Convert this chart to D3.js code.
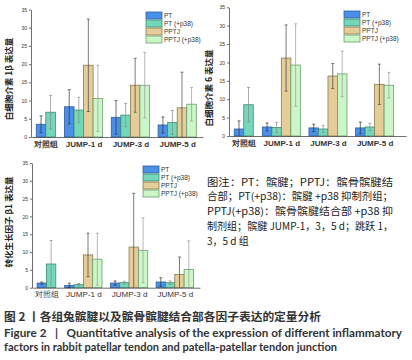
<!DOCTYPE html>
<html>
<head>
<meta charset="utf-8">
<script src="https://cdn.jsdelivr.net/npm/d3@7"></script>
<style>
  body { margin: 0; background: #fff; }
  svg { display: block; font-family: "Liberation Sans", "Noto Sans CJK SC", sans-serif; }
  .tick text { fill: #333; }
</style>
</head>
<body>
<svg id="fig" width="412" height="360"></svg>
<script>
// data
const groups = ["对照组", "JUMP-1 d", "JUMP-3 d", "JUMP-5 d"];
const series = ["PT", "PT (+p38)", "PPTJ", "PPTJ (+p38)"];
const yTicks = [0, 5, 10, 15, 20, 25, 30, 35];

// rows = series, columns = groups (control has no PPTJ bars)
const il1bMean = [[3.5, 8.3, 5.4, 3.3], [6.8, 7.4, 6.0, 4.0], [null, 19.7, 14.2, 8.0], [null, 10.6, 14.2, 9.0]];
const il1bErr  = [[2.3, 4.7, 4.6, 2.2], [4.6, 3.5, 3.2, 3.3], [null, 12.7, 7.4, 9.8], [null, 9.1, 9.0, 4.6]];

const il6Mean = [[1.9, 2.45, 2.2, 2.2], [8.5, 2.3, 1.9, 2.45], [null, 21.2, 16.3, 14.05], [null, 19.3, 16.9, 13.8]];
const il6Err  = [[2.2, 1.1, 1.0, 1.6], [4.7, 1.4, 1.0, 1.0], [null, 9.0, 3.4, 5.5], [null, 11.2, 6.2, 3.5]];

const tgfMean = [[1.3, 0.65, 1.3, 1.6], [6.65, 0.85, 1.4, 1.4], [null, 9.2, 11.4, 3.75], [null, 8.0, 10.5, 5.15]];
const tgfErr  = [[0.3, 0.6, 0.6, 1.2], [6.6, 0.35, 0.4, 0.5], [null, 6.1, 15.1, 4.85], [null, 7.3, 9.1, 8.0]];

const fills   = ["#4a8fe8", "#72d8b9", "#e4cd98", "#cbf6c8"];
const strokes = ["#2f5f9e", "#3f8a72", "#8a7a52", "#6f9c6f"];
const errCol  = ["#333", "#888", "#444", "#999"];

const svg = d3.select("#fig");

// slot where each group starts (bar-width units)
const groupStart = [0.55, 3.5, 8.4, 13.3];

function drawPanel(p) {
  const g = svg.append("g");
  const y = d3.scaleLinear().domain([0, 35]).range([p.y0, p.y1]);
  const x = d3.scaleLinear().domain([0, p.xMax]).range([p.x0, p.x1]);
  const bw = x(1) - x(0);

  // bars
  const bars = [];
  series.forEach((s, si) => {
    groups.forEach((gr, gi) => {
      const v = p.mean[si][gi];
      if (v == null) return;
      bars.push({ si, gi, v, e: p.err[si][gi], left: groupStart[gi] + si });
    });
  });

  g.selectAll(".bar")
    .data(bars)
    .enter().append("rect")
      .attr("x", d => x(d.left))
      .attr("y", d => y(d.v))
      .attr("width", bw)
      .attr("height", d => y(0) - y(d.v))
      .attr("fill", d => fills[d.si])
      .attr("stroke", d => strokes[d.si])
      .attr("stroke-width", 0.8);

  // error bars
  const eb = g.selectAll(".err")
    .data(bars)
    .enter().append("g")
      .attr("stroke", d => errCol[d.si])
      .attr("stroke-width", 0.7);
  eb.append("line")
      .attr("x1", d => x(d.left + 0.5)).attr("x2", d => x(d.left + 0.5))
      .attr("y1", d => y(d.v + d.e)).attr("y2", d => y(Math.max(0, d.v - d.e)));
  eb.append("line")
      .attr("x1", d => x(d.left + 0.5) - 1.5).attr("x2", d => x(d.left + 0.5) + 1.5)
      .attr("y1", d => y(d.v + d.e)).attr("y2", d => y(d.v + d.e));
  eb.filter(d => d.v - d.e > 0).append("line")
      .attr("x1", d => x(d.left + 0.5) - 1.5).attr("x2", d => x(d.left + 0.5) + 1.5)
      .attr("y1", d => y(d.v - d.e)).attr("y2", d => y(d.v - d.e));

  // axes
  const ya = g.append("g")
      .attr("transform", `translate(${p.x0},0)`)
      .call(d3.axisLeft(y).tickValues(yTicks).tickSize(2).tickSizeOuter(0).tickPadding(2));
  ya.selectAll("text").style("font-size", "5px");
  ya.selectAll("path, line").attr("stroke", "#333").attr("stroke-width", 0.7);

  const centers = groups.map((gr, gi) => groupStart[gi] + (gi === 0 ? 1 : 2));
  const xa = g.append("g")
      .attr("transform", `translate(0,${p.y0})`)
      .call(d3.axisBottom(x).tickValues(centers).tickFormat((d, i) => groups[i]).tickSize(0).tickPadding(4));
  xa.select(".domain").attr("stroke", "#333").attr("stroke-width", 0.7);
  xa.selectAll("text")
      .style("font-size", "8px")
      .style("font-weight", p.bold ? "bold" : "normal")
      .attr("fill", "#222");

  // y title
  g.append("text")
      .attr("transform", `translate(${p.titleX},${p.titleY}) rotate(-90)`)
      .attr("text-anchor", "middle")
      .attr("dominant-baseline", "middle")
      .style("font-family", "'Noto Sans CJK SC', sans-serif")
      .style("font-size", "8.5px")
      .style("font-weight", "bold")
      .attr("fill", "#222")
      .text(p.title);

  // legend
  const lg = g.append("g").attr("transform", `translate(${p.legX},${p.legY})`);
  series.forEach((s, si) => {
    lg.append("rect")
        .attr("x", 0).attr("y", si * 8)
        .attr("width", 16).attr("height", 7)
        .attr("fill", fills[si]).attr("stroke", strokes[si]).attr("stroke-width", 0.8);
    lg.append("text")
        .attr("x", 18).attr("y", si * 8 + 3.8)
        .attr("dominant-baseline", "middle")
        .style("font-size", "6.5px")
        .attr("fill", "#333")
        .text(s);
  });
}

drawPanel({ x0: 31, x1: 203, y0: 137, y1: 9.5, xMax: 18, mean: il1bMean, err: il1bErr,
  title: "白细胞介素 1β 表达量", titleX: 10, titleY: 79, legX: 146, legY: 12, bold: true });
drawPanel({ x0: 229, x1: 406, y0: 136, y1: 7.3, xMax: 18.6, mean: il6Mean, err: il6Err,
  title: "白细胞介素 6 表达量", titleX: 210, titleY: 88, legX: 344, legY: 11, bold: true });
drawPanel({ x0: 32, x1: 200, y0: 287.7, y1: 163, xMax: 18, mean: tgfMean, err: tgfErr,
  title: "转化生长因子 β1 表达量", titleX: 10, titleY: 222, legX: 143, legY: 166, bold: false });

// note beside bottom panel
const noteLines = [
  "图注：PT：髌腱；PPTJ：髌骨髌腱结",
  "合部；PT(+p38)：髌腱 +p38 抑制剂组；",
  "PPTJ(+p38)：髌骨髌腱结合部 +p38 抑",
  "制剂组；髌腱 JUMP-1，3，5 d；跳跃 1，",
  "3，5 d 组"
];
const noteY = [183, 197.5, 212, 227, 242];
noteLines.forEach((t, i) => {
  const tx = svg.append("text")
      .attr("x", 207).attr("y", noteY[i])
      .attr("dominant-baseline", "middle")
      .style("font-family", "'Noto Sans CJK SC', sans-serif")
      .style("font-size", "10px")
      .attr("fill", "#222")
      .text(t);
  if (i < 4) tx.attr("textLength", 186).attr("lengthAdjust", "spacingAndGlyphs");
});

// caption
svg.append("text")
    .attr("x", 4).attr("y", 318)
    .attr("dominant-baseline", "middle")
    .style("font-family", "'Noto Sans CJK SC', sans-serif")
    .style("font-size", "11.5px")
    .style("font-weight", "bold")
    .attr("fill", "#333")
    .attr("textLength", 317).attr("lengthAdjust", "spacingAndGlyphs")
    .text("图 2 丨各组兔髌腱以及髌骨髌腱结合部各因子表达的定量分析");

svg.append("text")
    .attr("x", 4).attr("y", 334)
    .attr("dominant-baseline", "middle")
    .style("font-family", "Lato, sans-serif")
    .style("font-size", "10.5px")
    .style("font-weight", "bold")
    .attr("fill", "#333")
    .attr("textLength", 398).attr("lengthAdjust", "spacingAndGlyphs")
    .attr("xml:space", "preserve")
    .text("Figure 2   |   Quantitative analysis of the expression of different inflammatory");

svg.append("text")
    .attr("x", 4).attr("y", 348)
    .attr("dominant-baseline", "middle")
    .style("font-family", "Lato, sans-serif")
    .style("font-size", "10.5px")
    .style("font-weight", "bold")
    .attr("fill", "#333")
    .attr("textLength", 333).attr("lengthAdjust", "spacingAndGlyphs")
    .text("factors in rabbit patellar tendon and patella-patellar tendon junction");
</script>
</body>
</html>
